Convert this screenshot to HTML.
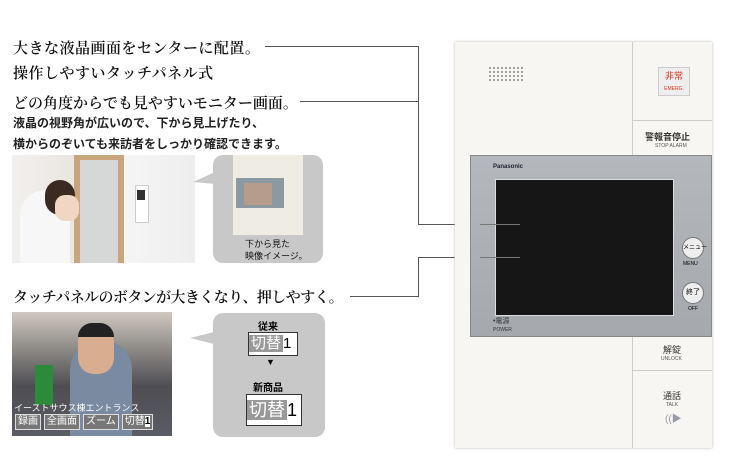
<!DOCTYPE html>
<html><head><meta charset="utf-8"><style>
body{margin:0;width:738px;height:470px;background:#fff;position:relative;overflow:hidden;font-family:"Liberation Sans","Noto Sans CJK JP",sans-serif}
.a{position:absolute}
.h{font-family:"Liberation Serif","Noto Serif CJK JP",serif;font-size:15px;font-weight:600;color:#111;white-space:nowrap}
.s{font-size:12px;font-weight:bold;color:#222;white-space:nowrap}
.ln{position:absolute;background:#555}
.b{border:1px solid #ddd;background:#777;padding:0 2px;white-space:nowrap}
</style></head><body>
<div class="a h" style="left:13px;top:37px;letter-spacing:.5px">大きな液晶画面をセンターに配置。</div>
<div class="a h" style="left:13px;top:62px;letter-spacing:.5px">操作しやすいタッチパネル式</div>
<div class="a h" style="left:13px;top:92px">どの角度からでも見やすいモニター画面。</div>
<div class="a s" style="left:13px;top:114px">液晶の視野角が広いので、下から見上げたり、</div>
<div class="a s" style="left:13px;top:135px">横からのぞいても来訪者をしっかり確認できます。</div>
<div class="a h" style="left:13px;top:286px;letter-spacing:-.6px">タッチパネルのボタンが大きくなり、押しやすく。</div>
<!-- connectors -->
<div class="ln" style="left:265px;top:46px;width:153px;height:1px"></div>
<div class="ln" style="left:300px;top:101px;width:118px;height:1px"></div>
<div class="ln" style="left:418px;top:46px;width:1px;height:179px"></div>
<div class="ln" style="left:418px;top:224px;width:62px;height:1px"></div>
<div class="ln" style="left:350px;top:296px;width:68px;height:1px"></div>
<div class="ln" style="left:418px;top:257px;width:1px;height:40px"></div>
<div class="ln" style="left:418px;top:257px;width:62px;height:1px"></div>
<!-- photo 1 -->
<div class="a" style="left:12px;top:155px;width:183px;height:108px;background:linear-gradient(90deg,#f2f0ee 0,#e8e4df 40%,#f5f5f5 60%,#eee 100%)"></div>
<div class="a" style="left:74px;top:155px;width:50px;height:108px;background:#c9a57e"></div>
<div class="a" style="left:80px;top:160px;width:38px;height:103px;background:#d6d8d8"></div>
<div class="a" style="left:135px;top:185px;width:12px;height:36px;background:#fff;border:1px solid #ccc"></div>
<div class="a" style="left:137px;top:190px;width:8px;height:10px;background:#333"></div>
<div class="a" style="left:20px;top:190px;width:50px;height:73px;background:#f7f7f7;border-radius:25px 25px 0 0"></div>
<div class="a" style="left:45px;top:180px;width:30px;height:35px;background:#3a2a22;border-radius:15px"></div>
<div class="a" style="left:55px;top:195px;width:24px;height:26px;background:#f1d6c4;border-radius:10px"></div>
<!-- bubble 1 -->
<div class="a" style="left:213px;top:155px;width:110px;height:108px;background:#c8c8c8;border-radius:10px"></div>
<svg class="a" style="left:193px;top:170px" width="24" height="20"><polygon points="0,12 22,2 22,14" fill="#c8c8c8"/></svg>
<div class="a" style="left:233px;top:155px;width:70px;height:80px;background:#efece4"></div>
<div class="a" style="left:236px;top:178px;width:48px;height:30px;background:#8a9aa0"></div>
<div class="a" style="left:244px;top:183px;width:28px;height:22px;background:#b59d8a"></div>
<div class="a" style="font-size:9px;left:245px;top:238px;line-height:12px;color:#111">下から見た<br>映像イメージ。</div>
<!-- photo 2 -->
<div class="a" style="left:12px;top:312px;width:160px;height:124px;background:linear-gradient(180deg,#cfc9c0 0,#8d8a86 30%,#4e4d52 60%,#5a5c66 100%);overflow:hidden">
<div class="a" style="left:23px;top:53px;width:18px;height:40px;background:#2d8a3a"></div>
<div class="a" style="left:58px;top:28px;width:62px;height:96px;background:#7a8aa0;border-radius:30px 30px 0 0"></div>
<div class="a" style="left:66px;top:14px;width:36px;height:48px;background:#d9ae90;border-radius:16px"></div>
<div class="a" style="left:66px;top:11px;width:36px;height:14px;background:#222;border-radius:14px 14px 0 0"></div>
<div class="a" style="left:2px;top:89px;font-size:9px;color:#fff;white-space:nowrap">イーストサウス棟エントランス</div>
<div class="a" style="left:3px;top:102px;font-size:10px;line-height:14px;color:#fff;display:flex;gap:3px;white-space:nowrap">
<span class="b">録画</span><span class="b">全画面</span><span class="b">ズーム</span><span class="b">切替<b style="background:#fff;color:#000">1</b></span></div>
</div>
<!-- bubble 2 -->
<div class="a" style="left:213px;top:313px;width:112px;height:124px;background:#c8c8c8;border-radius:10px"></div>
<svg class="a" style="left:190px;top:330px" width="26" height="16"><polygon points="0,8 24,2 24,14" fill="#c8c8c8"/></svg>
<div class="a" style="left:258px;top:318px;font-size:10px;font-weight:bold">従来</div>
<div class="a" style="left:248px;top:332px;width:48px;height:22px;border:1px solid #333;background:#fff;font-size:15px;line-height:22px;white-space:nowrap"><span style="background:#999;color:#fff;padding:0 2px">切替</span>1</div>
<div class="a" style="left:266px;top:357px;font-size:9px">▼</div>
<div class="a" style="left:253px;top:379px;font-size:10px;font-weight:bold">新商品</div>
<div class="a" style="left:246px;top:394px;width:54px;height:30px;border:1px solid #333;background:#fff;font-size:18px;line-height:30px;white-space:nowrap"><span style="background:#999;color:#fff;padding:0 2px">切替</span>1</div>
<!-- device -->
<div class="a" style="left:455px;top:42px;width:257px;height:406px;background:#f7f6f2;box-shadow:0 0 3px #bbb"></div>
<div class="a" style="left:632px;top:42px;width:1px;height:406px;background:#ccc"></div>
<div class="a" style="left:633px;top:120px;width:79px;height:1px;background:#ccc"></div>
<div class="a" style="left:633px;top:370px;width:79px;height:1px;background:#ccc"></div>
<div class="a" style="left:488px;top:66px;width:36px;height:16px;background:radial-gradient(#555 35%,transparent 40%) 0 0/4px 4px;opacity:.6"></div>
<div class="a" style="left:658px;top:67px;width:32px;height:29px;background:#eee;border:1px solid #ccc;color:#e03020;font-size:9px;text-align:center;line-height:11px;padding-top:3px;box-sizing:border-box">非常<br><span style="font-size:5px">EMERG.</span></div>
<div class="a" style="left:645px;top:130px;font-size:9px;font-weight:bold;color:#333">警報音停止</div>
<div class="a" style="left:655px;top:143px;font-size:5px;color:#555">STOP ALARM</div>
<div class="a" style="left:470px;top:155px;width:242px;height:182px;background:linear-gradient(180deg,#b4b8bc,#a5a9ad);border:1px solid #888;box-sizing:border-box"></div>
<div class="a" style="left:493px;top:164px;font-size:6px;font-weight:bold;color:#223">Panasonic</div>
<div class="a" style="left:495px;top:179px;width:177px;height:135px;background:#161616;border:1px solid #ddd"></div>
<div class="a" style="left:480px;top:224px;width:40px;height:1px;background:#777"></div>
<div class="a" style="left:480px;top:257px;width:40px;height:1px;background:#777"></div>
<div class="a" style="left:682px;top:237px;width:20px;height:20px;border-radius:50%;background:#eee;border:1px solid #777;font-size:6px;text-align:center;line-height:20px;white-space:nowrap">メニュー</div>
<div class="a" style="left:683px;top:261px;font-size:5px">MENU</div>
<div class="a" style="left:682px;top:282px;width:20px;height:20px;border-radius:50%;background:#eee;border:1px solid #777;font-size:7px;text-align:center;line-height:20px">終了</div>
<div class="a" style="left:688px;top:306px;font-size:5px">OFF</div>
<div class="a" style="left:493px;top:316px;font-size:7px;color:#333">•電源<br><span style="font-size:5px">POWER</span></div>
<div class="a" style="left:663px;top:343px;font-size:9px;color:#333">解錠</div>
<div class="a" style="left:661px;top:356px;font-size:5px;color:#555">UNLOCK</div>
<div class="a" style="left:663px;top:389px;font-size:9px;color:#333">通話</div>
<div class="a" style="left:666px;top:402px;font-size:5px;color:#555">TALK</div>
<div class="a" style="left:665px;top:410px;font-size:10px;color:#99a">((▶</div>
</body></html>
